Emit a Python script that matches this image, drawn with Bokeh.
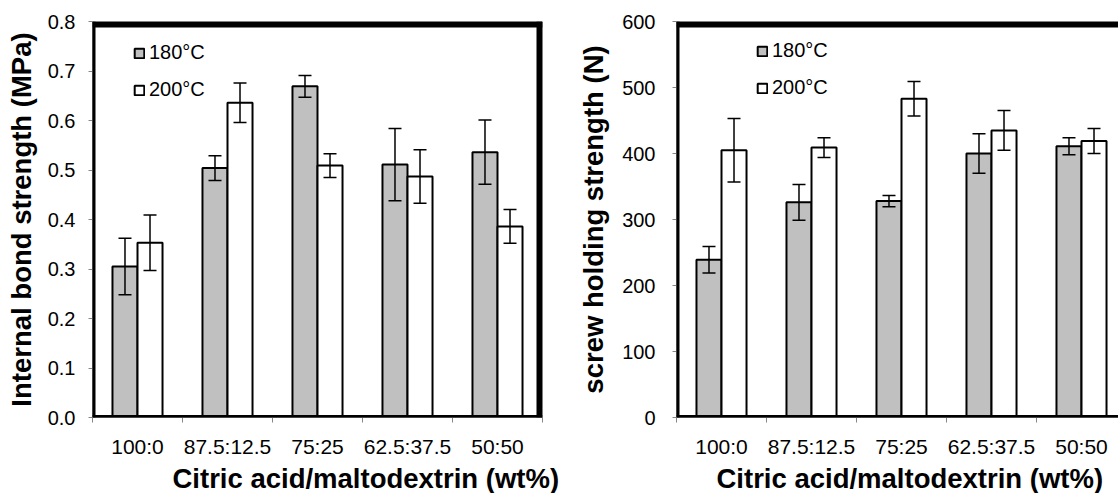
from bokeh.plotting import figure
from bokeh.models import (Whisker, TeeHead, FixedTicker, NumeralTickFormatter, Span,
                          Legend, LegendItem, Title, ColumnDataSource, Range1d)
from bokeh.layouts import row
from bokeh.embed import file_html
from bokeh.resources import INLINE

categories = ["100:0", "87.5:12.5", "75:25", "62.5:37.5", "50:50"]
series_names = ["180\u00b0C", "200\u00b0C"]

ib_180 = [0.305, 0.504, 0.669, 0.511, 0.536]
ib_180_err = [0.057, 0.025, 0.022, 0.073, 0.065]
ib_200 = [0.353, 0.636, 0.509, 0.487, 0.386]
ib_200_err = [0.056, 0.040, 0.024, 0.054, 0.034]

sh_180 = [239, 326, 328, 400, 411]
sh_180_err = [20, 27, 8.5, 30, 13]
sh_200 = [405, 409, 483, 435, 419]
sh_200_err = [48, 15, 26, 30, 19]

ib_ticks = [0.0, 0.1, 0.2, 0.3, 0.4, 0.5, 0.6, 0.7, 0.8]
sh_ticks = [0, 100, 200, 300, 400, 500, 600]

FONT = "Liberation Sans"
GREY = "#c0c0c0"
AXIS_GREY = "#868686"
BAR_W = 0.278


def make_panel(v180, e180, v200, e200, yticks, yfmt, ylabel, width, left, top,
               x_end, draw_right, title_offset, leg_x, leg_y, ylab_standoff, tick_standoff):
    p = figure(width=width, height=493, output_backend="svg", toolbar_location=None,
               x_range=Range1d(0, x_end), y_range=Range1d(yticks[0], yticks[-1]),
               min_border_left=left, min_border_right=(width - left - int(round(x_end * 90))) if draw_right else 0,
               min_border_top=top, min_border_bottom=75)
    p.outline_line_color = None
    p.xgrid.visible = False
    p.ygrid.visible = False
    p.background_fill_color = "white"
    p.border_fill_color = "white"

    n = len(categories)
    centers = [i + 0.5 for i in range(n)]
    src = ColumnDataSource(dict(
        xg=[c - BAR_W / 2 for c in centers], xw=[c + BAR_W / 2 for c in centers],
        v180=v180, v200=v200,
        lo180=[v - e for v, e in zip(v180, e180)], hi180=[v + e for v, e in zip(v180, e180)],
        lo200=[v - e for v, e in zip(v200, e200)], hi200=[v + e for v, e in zip(v200, e200)],
    ))
    r1 = p.vbar(x="xg", top="v180", bottom=0, width=BAR_W, source=src,
                fill_color=GREY, line_color="black", line_width=2)
    r2 = p.vbar(x="xw", top="v200", bottom=0, width=BAR_W, source=src,
                fill_color="white", line_color="black", line_width=2)
    for xcol, lo, hi in (("xg", "lo180", "hi180"), ("xw", "lo200", "hi200")):
        w = Whisker(source=src, base=xcol, lower=lo, upper=hi, line_color="black", line_width=1.5,
                    level="annotation",
                    upper_head=TeeHead(size=13, line_color="black", line_width=1.5),
                    lower_head=TeeHead(size=13, line_color="black", line_width=1.5))
        p.add_layout(w)

    # frame lines (half of each line falls inside the frame)
    p.add_layout(Span(location=yticks[-1], dimension="width", line_color="black", line_width=12))
    p.add_layout(Span(location=0, dimension="height", line_color="black", line_width=6))
    p.add_layout(Span(location=yticks[0], dimension="width", line_color="black", line_width=5))
    if draw_right:
        p.add_layout(Span(location=x_end, dimension="height", line_color="black", line_width=12))

    # x axis
    xa = p.xaxis[0]
    xa.ticker = FixedTicker(ticks=centers, minor_ticks=list(range(n + 1)))
    xa.major_label_overrides = {c: lab for c, lab in zip(centers, categories)}
    xa.major_tick_out = 0
    xa.major_tick_in = 0
    xa.minor_tick_out = 5
    xa.minor_tick_in = 0
    xa.minor_tick_line_color = AXIS_GREY
    xa.axis_line_color = AXIS_GREY
    xa.major_label_text_font = FONT
    xa.major_label_text_font_size = "21px"
    xa.major_label_text_color = "black"
    xa.major_label_standoff = 12

    # y axis
    ya = p.yaxis[0]
    ya.ticker = FixedTicker(ticks=yticks, minor_ticks=[])
    ya.formatter = NumeralTickFormatter(format=yfmt)
    ya.major_tick_out = 4
    ya.major_tick_in = 0
    ya.major_tick_line_color = AXIS_GREY
    ya.axis_line_color = AXIS_GREY
    ya.major_label_text_font = FONT
    ya.major_label_text_font_size = "20px"
    ya.major_label_text_color = "black"
    ya.major_label_standoff = tick_standoff
    ya.axis_label = ylabel
    ya.axis_label_text_font = FONT
    ya.axis_label_text_font_size = "27.5px"
    ya.axis_label_text_font_style = "bold"
    ya.axis_label_text_color = "black"
    ya.axis_label_standoff = ylab_standoff

    p.add_layout(Title(text="Citric acid/maltodextrin (wt%)", align="left", offset=title_offset,
                       text_font=FONT, text_font_size="27.5px", text_font_style="bold",
                       text_color="black", standoff=0), "below")

    legend = Legend(items=[LegendItem(label=series_names[0], renderers=[r1]),
                           LegendItem(label=series_names[1], renderers=[r2])],
                    location=(leg_x, leg_y), orientation="vertical",
                    glyph_width=12, glyph_height=12, label_standoff=4,
                    label_text_font=FONT, label_text_font_size="20px", label_text_color="black",
                    label_height=23, spacing=14, padding=0, margin=0,
                    border_line_color=None, background_fill_alpha=0)
    p.add_layout(legend)
    return p


p1 = make_panel(ib_180, ib_180_err, ib_200, ib_200_err, ib_ticks, "0.0",
                "Internal bond strength (MPa)", 560, 92, 18, 5.0, True, 80, 41, 316, 8, 13)
p2 = make_panel(sh_180, sh_180_err, sh_200, sh_200_err, sh_ticks, "0",
                "screw holding strength (N)", 558, 116, 21, 442 / 90, False, 40, 80, 318, 10, 17)

layout = row(p1, p2)
open("out.html", "w").write(file_html(layout, INLINE))
